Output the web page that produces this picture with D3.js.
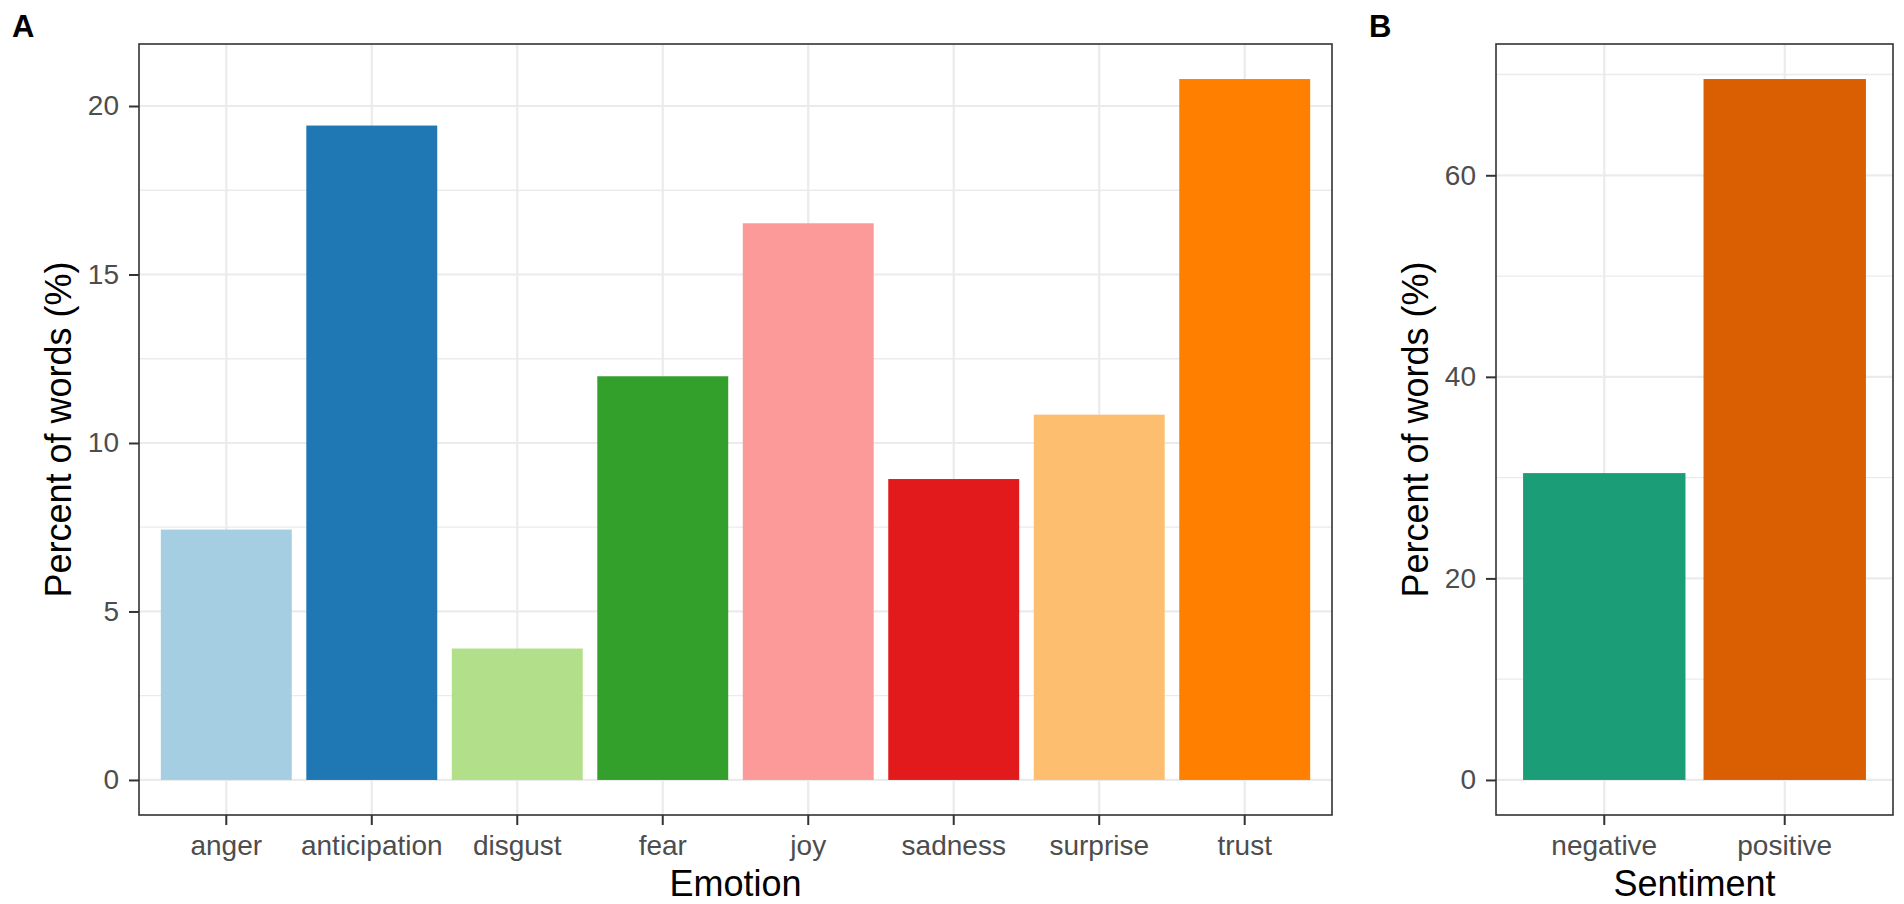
<!DOCTYPE html>
<html>
<head>
<meta charset="utf-8">
<script src="https://cdn.jsdelivr.net/npm/d3@7"></script>
<style>
  body { margin: 0; background: #ffffff; }
  svg { display: block; font-family: "Liberation Sans", Arial, sans-serif; }
</style>
</head>
<body>
<svg id="chart" width="1904" height="904"></svg>
<script>
// DATA
var emotions = ["anger", "anticipation", "disgust", "fear", "joy", "sadness", "surprise", "trust"];
var emotionPct = [7.43, 19.42, 3.9, 11.98, 16.52, 8.93, 10.84, 20.8];
var emotionTicks = [0, 5, 10, 15, 20];
var emotionMinor = [2.5, 7.5, 12.5, 17.5];

var sentiments = ["negative", "positive"];
var sentimentPct = [30.45, 69.55];
var sentimentTicks = [0, 20, 40, 60];
var sentimentMinor = [10, 30, 50, 70];

// COLOURS (Paired / Dark2)
var emotionColors = ["#a6cee3", "#1f78b4", "#b2df8a", "#33a02c", "#fb9a99", "#e31a1c", "#fdbf6f", "#ff7f00"];
var sentimentColors = ["#1b9e77", "#d95f02"];

var svg = d3.select("#chart");
var plotTop = 44;
var plotBottom = 815;

// DRAW ONE PANEL
function makePanel(opt) {
  var g = svg.append("g");
  var maxVal = d3.max(opt.values);

  var xScale = d3.scaleBand()
    .domain(opt.cats)
    .range([opt.left, opt.right])
    .paddingInner(0.1)
    .paddingOuter(0.15);
  var yScale = d3.scaleLinear()
    .domain([-0.05 * maxVal, 1.05 * maxVal])
    .range([plotBottom, plotTop]);

  // grid
  g.selectAll(".minor")
    .data(opt.minor)
    .enter()
    .append("line")
    .attr("x1", opt.left).attr("x2", opt.right)
    .attr("y1", function (d) {return yScale(d)})
    .attr("y2", function (d) {return yScale(d)})
    .attr("stroke", "#ebebeb")
    .attr("stroke-width", 1.3);
  g.selectAll(".major")
    .data(opt.ticks)
    .enter()
    .append("line")
    .attr("x1", opt.left).attr("x2", opt.right)
    .attr("y1", function (d) {return yScale(d)})
    .attr("y2", function (d) {return yScale(d)})
    .attr("stroke", "#ebebeb")
    .attr("stroke-width", 2.2);
  g.selectAll(".vgrid")
    .data(opt.cats)
    .enter()
    .append("line")
    .attr("x1", function (d) {return xScale(d) + xScale.bandwidth() / 2})
    .attr("x2", function (d) {return xScale(d) + xScale.bandwidth() / 2})
    .attr("y1", plotTop).attr("y2", plotBottom)
    .attr("stroke", "#ebebeb")
    .attr("stroke-width", 2.2);

  // bars
  g.selectAll(".bar")
    .data(opt.cats)
    .enter()
    .append("rect")
    .attr("x", function (d) {return xScale(d)})
    .attr("width", xScale.bandwidth())
    .attr("y", function (d, i) {return yScale(opt.values[i])})
    .attr("height", function (d, i) {return yScale(0) - yScale(opt.values[i])})
    .attr("fill", function (d, i) {return opt.colors[i]});

  // border
  g.append("rect")
    .attr("x", opt.left).attr("y", plotTop)
    .attr("width", opt.right - opt.left)
    .attr("height", plotBottom - plotTop)
    .attr("fill", "none")
    .attr("stroke", "#333333")
    .attr("stroke-width", 1.6);

  // axes
  var yAxis = g.append("g")
    .attr("transform", "translate(" + opt.left + ",0)")
    .call(d3.axisLeft(yScale).tickValues(opt.ticks).tickSize(10).tickPadding(10));
  var xAxis = g.append("g")
    .attr("transform", "translate(0," + plotBottom + ")")
    .call(d3.axisBottom(xScale).tickSize(10).tickPadding(10));
  [yAxis, xAxis].forEach(function (ax) {
    ax.select(".domain").remove();
    ax.selectAll("line").attr("stroke", "#333333").attr("stroke-width", 2);
    ax.selectAll("text")
      .attr("fill", "#4d4d4d")
      .attr("font-size", "28px")
      .attr("font-family", "'Liberation Sans', Arial, sans-serif");
  });

  // axis titles
  svg.append("text")
    .attr("x", (opt.left + opt.right) / 2)
    .attr("y", 896)
    .attr("font-size", "36px")
    .style("text-anchor", "middle")
    .text(opt.xTitle);
  svg.append("text")
    .attr("transform", "translate(" + (opt.left - 68) + "," + ((plotTop + plotBottom) / 2) + ") rotate(-90)")
    .attr("font-size", "36px")
    .style("text-anchor", "middle")
    .text("Percent of words (%)");

  // panel letter
  svg.append("text")
    .attr("x", opt.letterX)
    .attr("y", 37)
    .attr("font-size", "31px")
    .attr("font-weight", "bold")
    .text(opt.letter);
}

makePanel({
  cats: emotions, values: emotionPct, colors: emotionColors,
  ticks: emotionTicks, minor: emotionMinor,
  left: 139, right: 1332, xTitle: "Emotion", letter: "A", letterX: 12
});
makePanel({
  cats: sentiments, values: sentimentPct, colors: sentimentColors,
  ticks: sentimentTicks, minor: sentimentMinor,
  left: 1496, right: 1893, xTitle: "Sentiment", letter: "B", letterX: 1369
});
</script>
</body>
</html>
